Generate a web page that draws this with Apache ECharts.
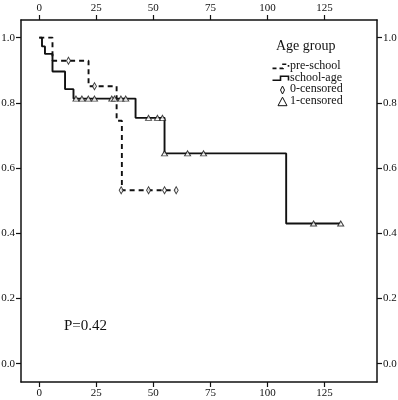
<!DOCTYPE html>
<html>
<head>
    <meta charset="utf-8">
    <title>Age group survival</title>
    <script src="https://cdn.jsdelivr.net/npm/echarts/dist/echarts.min.js"></script>
    <style>
        html, body { margin: 0; padding: 0; background: #fff; }
        #chart { width: 398px; height: 400px; }
    </style>
</head>
<body>
<div id="chart"></div>
<script>
    // step curves [time, survival]
    var preSchool = [[0, 1], [5.8, 0.929], [21.6, 0.851], [33.9, 0.745], [36.2, 0.532], [60, 0.532]];
    var schoolAge = [[0, 1], [1.2, 0.973], [2.5, 0.95], [5.8, 0.896], [11.3, 0.842], [15, 0.813],
        [42.2, 0.754], [54.9, 0.645], [108.2, 0.43], [132.1, 0.43]];
    // censored marks
    var preCensored = [[12.8, 0.929], [24.2, 0.851], [35.9, 0.532], [47.9, 0.532], [54.9, 0.532], [60, 0.532]];
    var schoolCensored = [[16.1, 0.813], [18.7, 0.813], [21.5, 0.813], [24.2, 0.813], [31.8, 0.813],
        [33, 0.813], [35.8, 0.813], [37.9, 0.813], [47.9, 0.754], [51.8, 0.754], [54, 0.754],
        [54.9, 0.645], [65, 0.645], [72, 0.645], [120.2, 0.43], [132.1, 0.43]];
    var xTicks = [0, 25, 50, 75, 100, 125];
    var yTicks = [0, 0.2, 0.4, 0.6, 0.8, 1.0];
    var legendNames = ['pre-school', 'school-age', '0-censored', '1-censored'];

    var serif = "'Liberation Serif', 'Times New Roman', serif";
    var ink = '#111';

    var myChart = echarts.init(document.getElementById('chart'));

    function xAxisOf(pos) {
        return {
            type: 'value', position: pos, min: -8, max: 148,
            axisLine: {show: true, onZero: false, lineStyle: {color: ink, width: 1.5}},
            axisTick: {show: true, length: 5, customValues: xTicks, lineStyle: {color: ink, width: 1.2}},
            axisLabel: {show: true, customValues: xTicks, margin: 6, color: ink, fontSize: 11, fontFamily: serif},
            splitLine: {show: false}
        };
    }

    function yAxisOf(pos) {
        return {
            type: 'value', position: pos, min: -0.056, max: 1.054,
            axisLine: {show: true, onZero: false, lineStyle: {color: ink, width: 1.5}},
            axisTick: {show: true, length: 5, customValues: yTicks, lineStyle: {color: ink, width: 1.2}},
            axisLabel: {
                show: true, customValues: yTicks, margin: 6, color: ink, fontSize: 11, fontFamily: serif,
                formatter: function (v) { return v.toFixed(1); }
            },
            splitLine: {show: false}
        };
    }

    var legendX = 272.5;
    var legendText = 290;
    var rowY = [66.7, 78.5, 90, 102.2];

    var option = {
        animation: false,
        backgroundColor: '#fff',
        grid: {left: 21, right: 21, top: 20, bottom: 18, containLabel: false, outerBoundsMode: 'none'},
        xAxis: [xAxisOf('bottom'), xAxisOf('top')],
        yAxis: [yAxisOf('left'), yAxisOf('right')],
        series: [
            {
                name: legendNames[0], type: 'line', step: 'end', showSymbol: false,
                lineStyle: {color: ink, width: 1.9, type: [5, 4]},
                data: preSchool
            },
            {
                name: legendNames[1], type: 'line', step: 'end', showSymbol: false,
                lineStyle: {color: ink, width: 1.9},
                data: schoolAge
            },
            {
                name: legendNames[2], type: 'scatter', symbol: 'diamond', symbolSize: [4, 7],
                itemStyle: {color: '#fff', borderColor: ink, borderWidth: 1},
                data: preCensored, z: 5
            },
            {
                name: legendNames[3], type: 'scatter', symbol: 'triangle', symbolSize: [6, 5],
                itemStyle: {color: '#fff', borderColor: ink, borderWidth: 1},
                data: schoolCensored, z: 5
            }
        ],
        graphic: [
            {
                type: 'text', left: 276, top: 39,
                style: {text: 'Age group', font: '14px ' + serif, fill: ink}
            },
            {
                type: 'polyline',
                shape: {points: [[legendX, rowY[0] + 1.7], [283, rowY[0] + 1.7], [283, rowY[0] - 2.5], [288.5, rowY[0] - 2.5], [288.5, rowY[0]]]},
                style: {stroke: ink, lineWidth: 1.6, fill: null, lineDash: [4, 3]}
            },
            {
                type: 'polyline',
                shape: {points: [[legendX, rowY[1] + 1.8], [280.5, rowY[1] + 1.8], [280.5, rowY[1] - 2.3], [288.5, rowY[1] - 2.3], [288.5, rowY[1] + 2]]},
                style: {stroke: ink, lineWidth: 1.6, fill: null}
            },
            {
                type: 'polygon',
                shape: {points: [[282.5, rowY[2] - 4], [284.5, rowY[2]], [282.5, rowY[2] + 4], [280.5, rowY[2]]]},
                style: {stroke: ink, lineWidth: 1, fill: '#fff'}
            },
            {
                type: 'polygon',
                shape: {points: [[282.5, rowY[3] - 5], [287, rowY[3] + 3.5], [278, rowY[3] + 3.5]]},
                style: {stroke: ink, lineWidth: 1, fill: '#fff'}
            },
            {
                type: 'text', left: legendText, top: rowY[0] - 7,
                style: {text: legendNames[0], font: '12px ' + serif, fill: ink}
            },
            {
                type: 'text', left: legendText, top: rowY[1] - 7,
                style: {text: legendNames[1], font: '12px ' + serif, fill: ink}
            },
            {
                type: 'text', left: legendText, top: rowY[2] - 7,
                style: {text: legendNames[2], font: '12px ' + serif, fill: ink}
            },
            {
                type: 'text', left: legendText, top: rowY[3] - 7,
                style: {text: legendNames[3], font: '12px ' + serif, fill: ink}
            },
            {
                type: 'text', left: 64, top: 319,
                style: {text: 'P=0.42', font: '15px ' + serif, fill: ink}
            }
        ]
    };
    myChart.setOption(option);
</script>
</body>
</html>
